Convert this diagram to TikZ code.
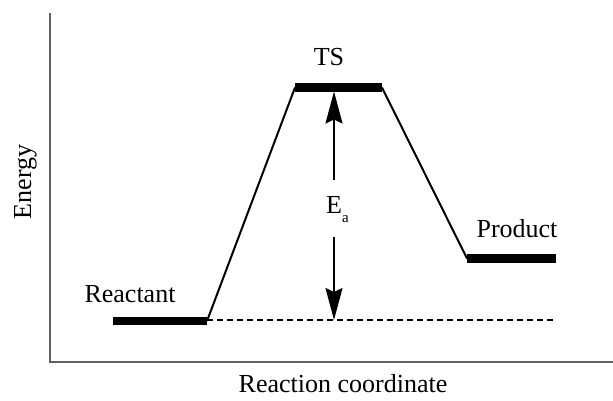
\documentclass[tikz,border=0pt]{standalone}
\usepackage{fontspec}
\setmainfont{Liberation Serif}
\usetikzlibrary{arrows.meta}
\begin{document}
\begin{tikzpicture}[x=1pt,y=-1pt,
  axisline/.style={draw=black!62, line width=2pt},
  level/.style={line width=8.5pt},
  slope/.style={line width=2pt},
  refline/.style={line width=1.6pt, dash pattern=on 6pt off 4pt},
  earrow/.style={line width=1.6pt, -{Stealth[length=32pt,width=17pt,inset=4pt]}},
  lbl/.style={font=\fontsize{26}{30}\selectfont, inner sep=0pt, anchor=base}]
\useasboundingbox (0,0) rectangle (613,400);
% axes
\coordinate (ytop) at (50,13);
\coordinate (orig) at (50,362);
\coordinate (xend) at (613,362);
\draw[axisline] (ytop) -- (orig) -- (xend);
% level coordinates
\coordinate (rL) at (113,321);
\coordinate (rR) at (207,321);
\coordinate (tL) at (295,87.5);
\coordinate (tR) at (382,87.5);
\coordinate (pL) at (467,258.5);
\coordinate (pR) at (556,258.5);
\coordinate (dashend) at (555,320);
% slopes
\draw[slope] (rR) -- (tL);
\draw[slope] (tR) -- (pL);
% dashed reference
\draw[refline] (rR) ++(0,-1) coordinate (dashstart) -- (dashend);
% level bars
\draw[level] (rL) -- (rR);
\draw[level] (tL) -- (tR);
\draw[level] (pL) -- (pR);
% labels
\node[lbl] (ts) at (329,65) {TS};
\node[lbl] (react) at (130,302) {Reactant};
\node[lbl] (prod) at (517,237) {Product};
\node[lbl] (xlab) at (343,392) {Reaction coordinate};
\node[lbl, rotate=90] (ylab) at (31,182) {Energy};
\node[lbl, anchor=base west] (ea) at (326,213) {E{\fontsize{15}{15}\selectfont\raisebox{-9pt}{a}}};
% activation arrow
\coordinate (aTop) at (334,91.5);
\coordinate (aUp) at (334,180);
\coordinate (aLow) at (334,237);
\coordinate (aBot) at (334,320);
\draw[earrow] (aUp) -- (aTop);
\draw[earrow] (aLow) -- (aBot);
\end{tikzpicture}
\end{document}
